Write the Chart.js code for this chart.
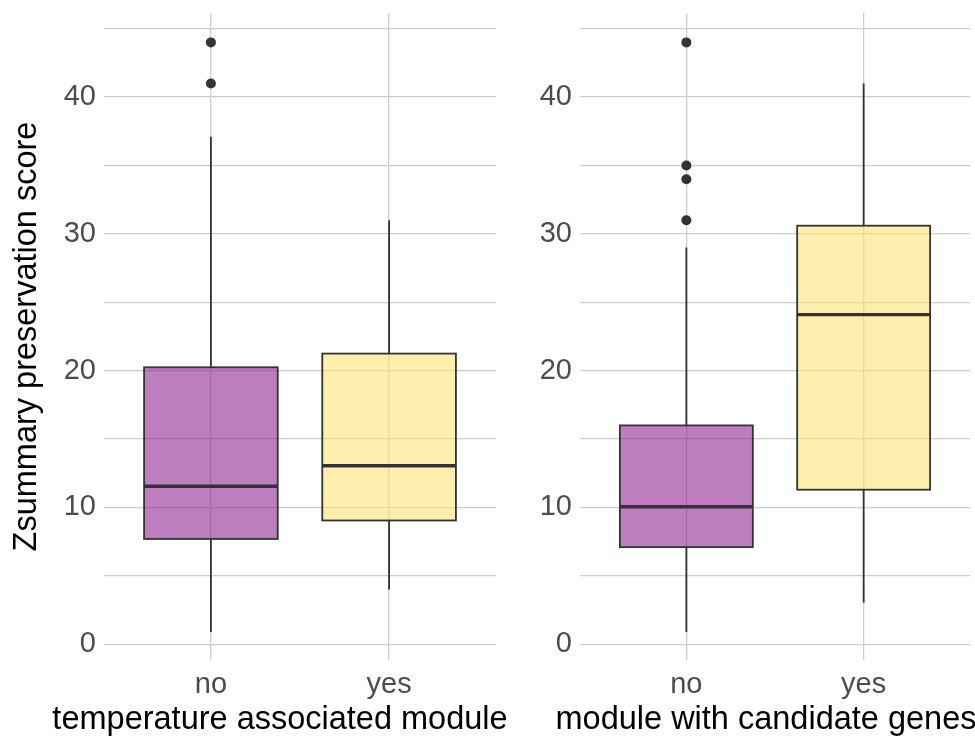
<!DOCTYPE html>
<html>
<head>
<meta charset="utf-8">
<script src="https://cdn.jsdelivr.net/npm/chart.js@4/dist/chart.umd.min.js"></script>
<style>
  body { margin: 0; background: #fff; }
  #wrap { position: relative; width: 975px; height: 736px; }
  .panel { position: absolute; top: 0; height: 736px; }
</style>
</head>
<body>
<div id="wrap">
  <div class="panel" style="left:0;width:524px"><canvas id="temp-chart"></canvas></div>
  <div class="panel" style="left:500px;width:475px"><canvas id="cand-chart"></canvas></div>
</div>
<script>
const categories = ['no', 'yes'];
const yTicks = [0, 5, 10, 15, 20, 25, 30, 35, 40, 45];

// temperature associated module
const tempLower = [0.9, 4.0];
const tempQ1 = [7.7, 9.05];
const tempMedian = [11.55, 13.05];
const tempQ3 = [20.25, 21.25];
const tempUpper = [37.1, 31.0];
const tempOutliers = [[41, 44], []];

// module with candidate genes
const candLower = [0.9, 3.05];
const candQ1 = [7.1, 11.3];
const candMedian = [10.05, 24.1];
const candQ3 = [16.0, 30.6];
const candUpper = [29.0, 41.0];
const candOutliers = [[31, 34, 35, 44], []];

const fills = ['rgba(147, 38, 147, 0.6)', 'rgba(253, 227, 118, 0.6)'];
const fontFam = '"Liberation Sans", Arial, sans-serif';

//plugin that draws boxes, whiskers and medians through the chart scales
const boxPlugin = {
  id: 'boxes',
  beforeDatasetsDraw(chart) {
    const b = chart.options.plugins.boxes;
    const x = chart.scales.x, y = chart.scales.y, ctx = chart.ctx;
    ctx.save();
    for (let i = 0; i < categories.length; i++) {
      const cx = x.getPixelForValue(i + 1);
      const left = x.getPixelForValue(i + 1 - 0.375);
      const right = x.getPixelForValue(i + 1 + 0.375);
      const pq1 = y.getPixelForValue(b.q1[i]);
      const pq3 = y.getPixelForValue(b.q3[i]);
      ctx.strokeStyle = '#333333';
      ctx.lineWidth = 1.8;
      ctx.beginPath();
      ctx.moveTo(cx, y.getPixelForValue(b.upper[i]));
      ctx.lineTo(cx, pq3);
      ctx.moveTo(cx, pq1);
      ctx.lineTo(cx, y.getPixelForValue(b.lower[i]));
      ctx.stroke();
      ctx.fillStyle = fills[i];
      ctx.fillRect(left, pq3, right - left, pq1 - pq3);
      ctx.strokeRect(left, pq3, right - left, pq1 - pq3);
      ctx.lineWidth = 3.4;
      const pm = y.getPixelForValue(b.median[i]);
      ctx.beginPath();
      ctx.moveTo(left, pm);
      ctx.lineTo(right, pm);
      ctx.stroke();
    }
    ctx.restore();
  }
};

//x axis title, drawn without the scale's max width squeeze
const xTitlePlugin = {
  id: 'xTitle',
  afterDraw(chart) {
    const o = chart.options.plugins.xTitle;
    const a = chart.chartArea, ctx = chart.ctx;
    ctx.save();
    ctx.font = '32.5px ' + fontFam;
    ctx.fillStyle = '#000';
    ctx.textAlign = 'center';
    ctx.textBaseline = 'alphabetic';
    ctx.fillText(o.text, (a.left + a.right) / 2 + o.offset, 729);
    ctx.restore();
  }
};

function outlierPoints(outliers) {
  let pts = [];
  outliers.forEach(function(list, i) {
    list.forEach(function(v) { pts.push({x: i + 1, y: v}); });
  });
  return pts;
}

function makeChart(id, stats, title, titleOffset, yTitle, yWidth, padRight) {
  return new Chart(document.getElementById(id), {
    type: 'scatter',
    data: {
      datasets: [{
        data: outlierPoints(stats.outliers),
        pointRadius: 5,
        pointBackgroundColor: '#333333',
        pointBorderWidth: 0
      }]
    },
    plugins: [boxPlugin, xTitlePlugin],
    options: {
      responsive: true,
      maintainAspectRatio: false,
      animation: false,
      layout: { padding: { top: 13, right: padRight, bottom: 0, left: 0 } },
      plugins: {
        legend: { display: false },
        tooltip: { enabled: false },
        boxes: stats,
        xTitle: { text: title, offset: titleOffset }
      },
      scales: {
        x: {
          type: 'linear',
          min: 0.4,
          max: 2.6,
          afterBuildTicks: function(scale) {
            scale.ticks = categories.map(function(c, i) { return {value: i + 1}; });
          },
          afterFit: function(scale) {
            scale.height = 76;
            scale.paddingLeft = 0;
            scale.paddingRight = 0;
          },
          grid: { color: '#cdcdcd', lineWidth: 1.3, drawTicks: false },
          border: { display: false },
          ticks: {
            padding: 8,
            color: '#4d4d4d',
            font: { family: fontFam, size: 29 },
            callback: function(v) { return categories[v - 1]; }
          }
        },
        y: {
          min: -1.15,
          max: 46.15,
          afterBuildTicks: function(scale) {
            scale.ticks = yTicks.map(function(v) { return {value: v}; });
          },
          afterFit: function(scale) {
            scale.width = yWidth;
            scale.paddingTop = 0;
            scale.paddingBottom = 0;
          },
          grid: { color: '#cdcdcd', lineWidth: 1.3, drawTicks: false },
          border: { display: false },
          ticks: {
            padding: 8,
            color: '#4d4d4d',
            font: { family: fontFam, size: 29 },
            callback: function(v) { return v % 10 === 0 ? v : ''; }
          },
          title: {
            display: yTitle !== '',
            text: yTitle,
            color: '#000',
            padding: { top: 11, bottom: 0 },
            font: { family: fontFam, size: 32.5, lineHeight: 1.0 }
          }
        }
      }
    }
  });
}

makeChart('temp-chart', {
  lower: tempLower, q1: tempQ1, median: tempMedian, q3: tempQ3, upper: tempUpper, outliers: tempOutliers
}, 'temperature associated module', -20, 'Zsummary preservation score', 104, 28);

makeChart('cand-chart', {
  lower: candLower, q1: candQ1, median: candMedian, q3: candQ3, upper: candUpper, outliers: candOutliers
}, 'module with candidate genes', -9, '', 80, 4);
</script>
</body>
</html>
